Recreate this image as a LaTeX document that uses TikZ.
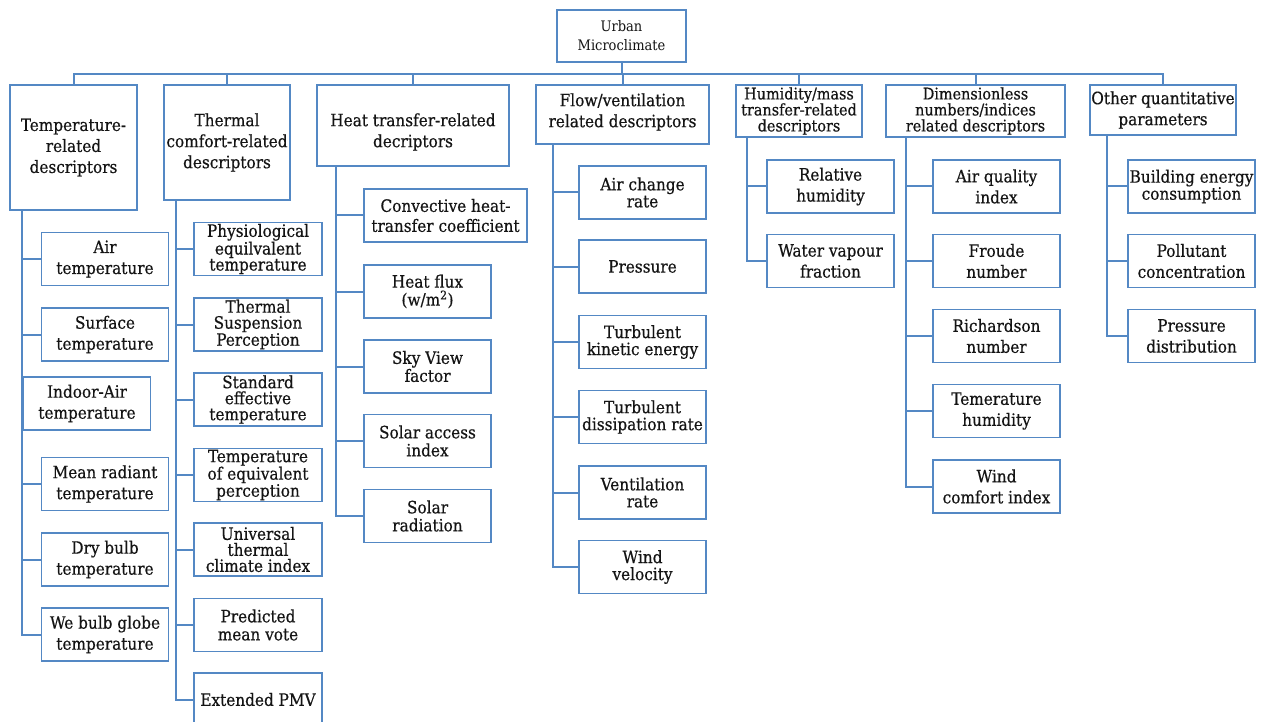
\documentclass[tikz,border=0pt]{standalone}
\usepackage{fontspec}
\setmainfont{DejaVu Serif Condensed}
\newfontfamily\thk{DejaVu Serif Condensed}[FakeBold=0.5]
\usetikzlibrary{calc}
\definecolor{ln}{RGB}{84,136,196}
\definecolor{tx}{RGB}{20,20,20}
\tikzset{
  box/.style={draw=ln, line width=1.7pt, fill=white, align=center, inner sep=1pt,
    text=tx, font=\fontsize{17}{21}\selectfont, execute at begin node=\thk},
  ch/.style={box, minimum width=127pt, minimum height=53pt},
  tight/.style={font=\fontsize{17}{16}\selectfont},
  conn/.style={draw=ln, line width=2pt},
}
\begin{document}
\begin{tikzpicture}[x=1pt,y=-1pt]
\useasboundingbox (0,0) rectangle (1261,722);
\fill[white] (0,0) rectangle (1261,722);
% root
\node[box, minimum width=129pt, minimum height=52pt, font=\fontsize{14.5}{19}\selectfont, execute at begin node=\rmfamily] (root) at (621.5,36) {Urban\\Microclimate};
% level 1
\node[box, minimum width=127pt, minimum height=125pt] (p1) at (73.5,147.5) {Temperature-\\related\\descriptors};
\node[box, minimum width=126pt, minimum height=115pt] (p2) at (227,142.5) {Thermal\\comfort-related\\descriptors};
\node[box, minimum width=192pt, minimum height=81pt] (p3) at (413,125.5) {\raisebox{-7pt}[\height][\depth]{\begin{tabular}{@{}c@{}}Heat transfer-related\\decriptors\end{tabular}}};
\node[box, minimum width=173pt, minimum height=59pt] (p4) at (622.5,114.5) {\raisebox{2pt}[\height][\depth]{\begin{tabular}{@{}c@{}}Flow/ventilation\\related descriptors\end{tabular}}};
\node[box, minimum width=126pt, minimum height=52pt, font=\fontsize{16}{16}\selectfont] (p5) at (799,111) {Humidity/mass\\transfer-related\\descriptors};
\node[box, minimum width=179pt, minimum height=52pt, font=\fontsize{16}{16}\selectfont] (p6) at (975.5,111) {Dimensionless\\numbers/indices\\related descriptors};
\node[box, minimum width=146pt, minimum height=50pt] (p7) at (1163,110) {Other quantitative\\parameters};
% column 1
\node[ch] (c11) at (105,259) {Air\\temperature};
\node[ch] (c12) at (105,334.5) {Surface\\temperature};
\node[ch] (c13) at (87,403.5) {Indoor-Air\\temperature};
\node[ch] (c14) at (105,484) {Mean radiant\\temperature};
\node[ch] (c15) at (105,559.5) {Dry bulb\\temperature};
\node[ch] (c16) at (105,634.5) {We bulb globe\\temperature};
% column 2
\node[ch, minimum width=128pt, tight] (c21) at (258,249) {Physiological\\equilvalent\\temperature};
\node[ch, minimum width=128pt, tight] (c22) at (258,324.5) {Thermal\\Suspension\\Perception};
\node[ch, minimum width=128pt, tight] (c23) at (258,399.5) {Standard\\effective\\temperature};
\node[ch, minimum width=128pt, tight] (c24) at (258,475) {Temperature\\of equivalent\\perception};
\node[ch, minimum width=128pt, tight] (c25) at (258,549.5) {Universal\\thermal\\climate index};
\node[ch, minimum width=128pt, font=\fontsize{17}{18}\selectfont] (c26) at (258,625) {Predicted\\mean vote};
\node[ch, minimum width=128pt] (c27) at (258,699.5) {Extended PMV};
% column 3
\node[ch, minimum width=163pt, font=\fontsize{17}{20}\selectfont] (c31) at (445.5,215.5) {Convective heat-\\transfer coefficient};
\node[ch, font=\fontsize{17}{18}\selectfont] (c32) at (427.5,291.5) {Heat flux\\(w/m\textsuperscript{2})};
\node[ch, font=\fontsize{17}{18}\selectfont] (c33) at (427.5,366.5) {Sky View\\factor};
\node[ch, font=\fontsize{17}{18}\selectfont] (c34) at (427.5,441) {Solar access\\index};
\node[ch, font=\fontsize{17}{18}\selectfont] (c35) at (427.5,516) {Solar\\radiation};
% column 4
\node[ch, font=\fontsize{17}{17}\selectfont] (c41) at (642.5,192.5) {Air change\\rate};
\node[ch] (c42) at (642.5,266.5) {Pressure};
\node[ch, font=\fontsize{17}{17}\selectfont] (c43) at (642.5,342) {Turbulent\\kinetic energy};
\node[ch, font=\fontsize{17}{17}\selectfont] (c44) at (642.5,417) {Turbulent\\dissipation rate};
\node[ch, font=\fontsize{17}{17}\selectfont] (c45) at (642.5,492.5) {Ventilation\\rate};
\node[ch, font=\fontsize{17}{17}\selectfont] (c46) at (642.5,567) {Wind\\velocity};
% column 5
\node[ch] (c51) at (830.5,186.5) {Relative\\humidity};
\node[ch] (c52) at (830.5,261) {Water vapour\\fraction};
% column 6
\node[ch] (c61) at (996.5,186.5) {Air quality\\index};
\node[ch] (c62) at (996.5,261) {Froude\\number};
\node[ch] (c63) at (996.5,336) {Richardson\\number};
\node[ch] (c64) at (996.5,411) {Temerature\\humidity};
\node[ch] (c65) at (996.5,486.5) {Wind\\comfort index};
% column 7
\node[ch, font=\fontsize{17}{17}\selectfont] (c71) at (1191.5,186.5) {Building energy\\consumption};
\node[ch] (c72) at (1191.5,261) {Pollutant\\concentration};
\node[ch] (c73) at (1191.5,336) {Pressure\\distribution};
% bus
\coordinate (bus) at ($(root.south)+(0,11)$);
\draw[conn] (root.south) -- (bus);
\foreach \p in {p1,p2,p3,p4,p5,p6,p7} \draw[conn] (bus) -| (\p.north);
% spines
\coordinate (s1) at ($(p1.south west)+(13,0)$);
\coordinate (s2) at ($(p2.south west)+(13,0)$);
\coordinate (s3) at ($(p3.south west)+(20,0)$);
\coordinate (s4) at ($(p4.south west)+(18,0)$);
\coordinate (s5) at ($(p5.south west)+(12,0)$);
\coordinate (s6) at ($(p6.south west)+(21,0)$);
\coordinate (s7) at ($(p7.south west)+(18,0)$);
\foreach \c in {c11,c12,c13,c14,c15,c16} \draw[conn] (s1) |- (\c.west);
\foreach \c in {c21,c22,c23,c24,c25,c26,c27} \draw[conn] (s2) |- (\c.west);
\foreach \c in {c31,c32,c33,c34,c35} \draw[conn] (s3) |- (\c.west);
\foreach \c in {c41,c42,c43,c44,c45,c46} \draw[conn] (s4) |- (\c.west);
\foreach \c in {c51,c52} \draw[conn] (s5) |- (\c.west);
\foreach \c in {c61,c62,c63,c64,c65} \draw[conn] (s6) |- (\c.west);
\foreach \c in {c71,c72,c73} \draw[conn] (s7) |- (\c.west);
\end{tikzpicture}
\end{document}
